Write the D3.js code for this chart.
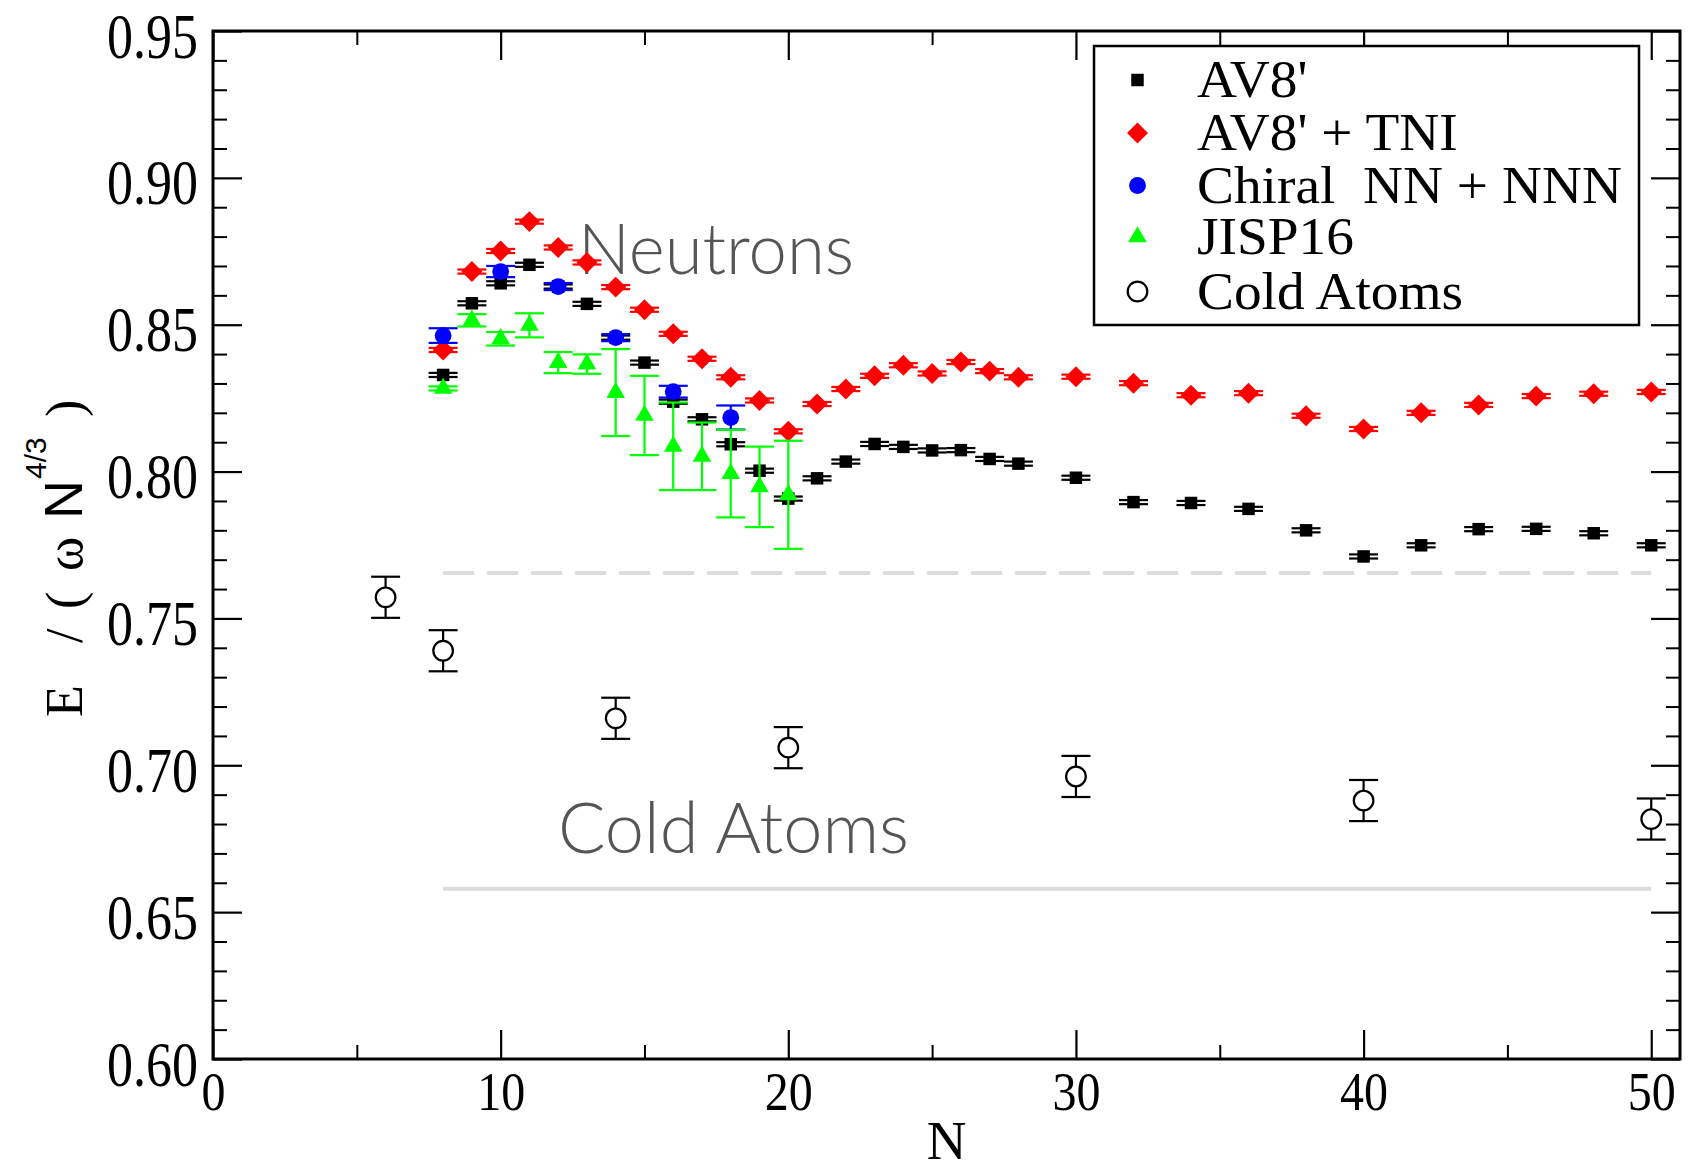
<!DOCTYPE html>
<html>
<head>
<meta charset="utf-8">
<script src="https://cdn.jsdelivr.net/npm/d3@7"></script>
<style>
  html, body { margin: 0; padding: 0; background: #fff; }
  svg { display: block; }
</style>
</head>
<body>
<svg id="chart" width="1691" height="1166"></svg>
<script>
// ---- data -------------------------------------------------------------
const av8N = [8, 9, 10, 11, 12, 13, 14, 15, 16, 17, 18, 19, 20, 21, 22, 23, 24, 25, 26, 27, 28,
              30, 32, 34, 36, 38, 40, 42, 44, 46, 48, 50];
const av8E = [0.8329, 0.8573, 0.8641, 0.8704, 0.8630, 0.8571, 0.8456, 0.8371, 0.8238, 0.8178,
              0.8093, 0.8003, 0.7908, 0.7977, 0.8034, 0.8094, 0.8084, 0.8072, 0.8073, 0.8043,
              0.8027, 0.7979, 0.7896, 0.7893, 0.7873, 0.7800, 0.7711, 0.7749, 0.7804, 0.7805,
              0.7790, 0.7749];
const av8Err = [0.0007, 0.0007, 0.0007, 0.0007, 0.0007, 0.0007, 0.0007, 0.0007, 0.0007, 0.0007,
                0.0007, 0.0007, 0.0007, 0.0007, 0.0007, 0.0007, 0.0007, 0.0007, 0.0007, 0.0007,
                0.0007, 0.0007, 0.0007, 0.0007, 0.0007, 0.0007, 0.0007, 0.0007, 0.0007, 0.0007,
                0.0007, 0.0007];

const tniN = av8N;
const tniE = [0.8414, 0.8681, 0.8751, 0.8851, 0.8763, 0.8712, 0.8628, 0.8551, 0.8469, 0.8384,
              0.8321, 0.8242, 0.8137, 0.8230, 0.8281, 0.8326, 0.8362, 0.8334, 0.8373, 0.8342,
              0.8321, 0.8323, 0.8301, 0.8260, 0.8267, 0.8190, 0.8145, 0.8200, 0.8227, 0.8257,
              0.8265, 0.8271];
const tniErr = av8Err;

const chiralN = [8, 10, 12, 14, 16, 18];
const chiralE = [0.8463, 0.8681, 0.8630, 0.8456, 0.8272, 0.8184];
const chiralErr = [0.0025, 0.0019, 0.0012, 0.0012, 0.0020, 0.0041];

const jispN = [8, 9, 10, 11, 12, 13, 14, 15, 16, 17, 18, 19, 20];
const jispE = [0.8283, 0.8515, 0.8452, 0.8498, 0.8371, 0.8366, 0.8269, 0.8191, 0.8086, 0.8052,
               0.7993, 0.7948, 0.7921];
const jispErr = [0.0007, 0.0021, 0.0023, 0.0041, 0.0036, 0.0033, 0.0148, 0.0135, 0.0149, 0.0115,
                 0.0149, 0.0137, 0.0184];

const coldN = [6, 8, 14, 20, 30, 40, 50];
const coldE = [0.7572, 0.7390, 0.7160, 0.7060, 0.6962, 0.6880, 0.6817];
const coldErr = [0.0070, 0.0070, 0.0070, 0.0070, 0.0070, 0.0070, 0.0070];

// reference levels (neutron and cold-atom bulk values)
const neutronLevel = 0.7655;
const coldLevel = 0.658;
const levelRange = [8, 50];

const xMajor = [0, 10, 20, 30, 40, 50];
const xMinor = [5, 15, 25, 35, 45];
const yMajor = [0.60, 0.65, 0.70, 0.75, 0.80, 0.85, 0.90, 0.95];

const legendLabels = ["AV8'", "AV8' + TNI", "Chiral  NN + NNN", "JISP16", "Cold Atoms"];

// ---- layout -----------------------------------------------------------
const svg = d3.select("#chart");
const W = 1691, H = 1166;
const L = 213, R = 1680, T = 31, B = 1059;

svg.append("rect").attr("width", W).attr("height", H).attr("fill", "#fff");

const x = d3.scaleLinear().domain([0, 51]).range([L, R]);
const y = d3.scaleLinear().domain([0.60, 0.95]).range([B, T]);

const serif = "'Liberation Serif', 'Times New Roman', serif";
const sans = "'Liberation Sans', Arial, sans-serif";

// ---- reference lines --------------------------------------------------
svg.append("line")
  .attr("x1", x(levelRange[0])).attr("x2", x(levelRange[1]))
  .attr("y1", y(neutronLevel)).attr("y2", y(neutronLevel))
  .attr("stroke", "#dcdcdc").attr("stroke-width", 4)
  .attr("stroke-dasharray", "31 13");
svg.append("line")
  .attr("x1", x(levelRange[0])).attr("x2", x(levelRange[1]))
  .attr("y1", y(coldLevel)).attr("y2", y(coldLevel))
  .attr("stroke", "#dcdcdc").attr("stroke-width", 4);

// ---- annotations ------------------------------------------------------
const noteFont = "Lato, 'Open Sans', sans-serif";
svg.append("text").text("Neutrons")
  .attr("x", 578).attr("y", 274)
  .attr("font-family", noteFont).attr("font-weight", 300)
  .attr("font-size", 70).attr("fill", "#555")
  .attr("textLength", 276).attr("lengthAdjust", "spacingAndGlyphs");
svg.append("text").text("Cold Atoms")
  .attr("x", 558).attr("y", 853)
  .attr("font-family", noteFont).attr("font-weight", 300)
  .attr("font-size", 70).attr("fill", "#555")
  .attr("textLength", 351).attr("lengthAdjust", "spacingAndGlyphs");

// ---- axes -------------------------------------------------------------
function styleAxis(g, width) {
  g.select(".domain").remove();
  g.selectAll(".tick line").attr("stroke", "#000").attr("stroke-width", width);
}

// bottom
svg.append("g").attr("transform", `translate(0,${B})`)
  .call(d3.axisBottom(x).tickValues(xMinor).tickSize(-14).tickFormat(""))
  .call(g => styleAxis(g, 2));
const xAxisG = svg.append("g").attr("transform", `translate(0,${B})`)
  .call(d3.axisBottom(x).tickValues(xMajor).tickSize(-29).tickFormat(d3.format("d")))
  .call(g => styleAxis(g, 2.2));
xAxisG.selectAll(".tick text")
  .attr("font-family", serif).attr("font-size", 48).attr("fill", "#000")
  .attr("dy", null).attr("y", 44.7)
  .attr("transform", "scale(1,1.14)");

// top mirror
svg.append("g").attr("transform", `translate(0,${T})`)
  .call(d3.axisTop(x).tickValues(xMinor).tickSize(-14).tickFormat(""))
  .call(g => styleAxis(g, 2));
svg.append("g").attr("transform", `translate(0,${T})`)
  .call(d3.axisTop(x).tickValues(xMajor).tickSize(-29).tickFormat(""))
  .call(g => styleAxis(g, 2.2));

// y minor ticks every 0.01
const yMinor = d3.range(61, 95).map(v => v / 100).filter(v => Math.round(v * 100) % 5 !== 0);
svg.append("g").attr("transform", `translate(${L},0)`)
  .call(d3.axisLeft(y).tickValues(yMinor).tickSize(-14).tickFormat(""))
  .call(g => styleAxis(g, 2));
const yAxisG = svg.append("g").attr("transform", `translate(${L},0)`)
  .call(d3.axisLeft(y).tickValues(yMajor).tickSize(-29).tickFormat(d3.format(".2f")))
  .call(g => styleAxis(g, 2.2));
yAxisG.selectAll(".tick text")
  .attr("font-family", serif).attr("font-size", 52).attr("fill", "#000")
  .attr("x", -15).attr("dy", null).attr("y", 21.7)
  .attr("text-anchor", "end")
  .attr("transform", "scale(1,1.2)");

svg.append("g").attr("transform", `translate(${R},0)`)
  .call(d3.axisRight(y).tickValues(yMinor).tickSize(-14).tickFormat(""))
  .call(g => styleAxis(g, 2));
svg.append("g").attr("transform", `translate(${R},0)`)
  .call(d3.axisRight(y).tickValues(yMajor).tickSize(-29).tickFormat(""))
  .call(g => styleAxis(g, 2.2));

// frame
svg.append("rect")
  .attr("x", L).attr("y", T).attr("width", R - L).attr("height", B - T)
  .attr("fill", "none").attr("stroke", "#000").attr("stroke-width", 3);

// axis titles
svg.append("text").text("N")
  .attr("x", (L + R) / 2).attr("y", 1159)
  .attr("text-anchor", "middle")
  .attr("font-family", serif).attr("font-size", 55).attr("fill", "#000");

const yTitle = svg.append("text")
  .attr("transform", "translate(82,717) rotate(-90)")
  .attr("font-family", serif).attr("fill", "#000");
yTitle.append("tspan").attr("x", 0).attr("font-size", 52).text("E");
yTitle.append("tspan").attr("x", 74).attr("font-size", 52).text("/");
yTitle.append("tspan").attr("x", 108).attr("font-size", 52).text("(");
yTitle.append("tspan").attr("x", 146).attr("font-size", 52).text("\u03c9");
yTitle.append("tspan").attr("x", 198).attr("font-size", 54).attr("font-family", sans).text("N");
yTitle.append("tspan").attr("x", 238).attr("dy", -36).attr("font-size", 30)
  .attr("font-family", sans).text("4/3");
yTitle.append("tspan").attr("x", 300).attr("dy", 36).attr("font-size", 52).text(")");

// ---- data marks -------------------------------------------------------
const plot = svg.append("g");
const CAP = 14.5;

function zipSeries(ns, es, errs) {
  return ns.map((n, i) => ({ n, e: es[i], err: errs[i] }));
}

function errorBars(g, data, color) {
  const eb = g.append("g").attr("stroke", color).attr("stroke-width", 2.2).attr("fill", "none");
  eb.selectAll("line.v").data(data).join("line").attr("class", "v")
    .attr("x1", d => x(d.n)).attr("x2", d => x(d.n))
    .attr("y1", d => y(d.e - d.err)).attr("y2", d => y(d.e + d.err));
  eb.selectAll("line.top").data(data).join("line").attr("class", "top")
    .attr("x1", d => x(d.n) - CAP).attr("x2", d => x(d.n) + CAP)
    .attr("y1", d => y(d.e + d.err)).attr("y2", d => y(d.e + d.err));
  eb.selectAll("line.bot").data(data).join("line").attr("class", "bot")
    .attr("x1", d => x(d.n) - CAP).attr("x2", d => x(d.n) + CAP)
    .attr("y1", d => y(d.e - d.err)).attr("y2", d => y(d.e - d.err));
}

const sqPath = d3.symbol(d3.symbolSquare, 156)();
const diaPath = d3.symbol(d3.symbolSquare, 220)();
const triPath = d3.symbol(d3.symbolTriangle, 150)();

// AV8'
const av8 = zipSeries(av8N, av8E, av8Err);
const gA = plot.append("g");
errorBars(gA, av8, "#000");
gA.selectAll("path").data(av8).join("path")
  .attr("d", sqPath).attr("fill", "#000")
  .attr("transform", d => `translate(${x(d.n)},${y(d.e)})`);

// AV8' + TNI
const tni = zipSeries(tniN, tniE, tniErr);
const gT = plot.append("g");
errorBars(gT, tni, "#ff0000");
gT.selectAll("path").data(tni).join("path")
  .attr("d", diaPath).attr("fill", "#ff0000")
  .attr("transform", d => `translate(${x(d.n)},${y(d.e)}) rotate(45)`);

// Chiral NN + NNN
const chiral = zipSeries(chiralN, chiralE, chiralErr);
const gC = plot.append("g");
errorBars(gC, chiral, "#0000ff");
gC.selectAll("circle").data(chiral).join("circle")
  .attr("cx", d => x(d.n)).attr("cy", d => y(d.e)).attr("r", 8.4)
  .attr("fill", "#0000ff");

// JISP16
const jisp = zipSeries(jispN, jispE, jispErr);
const gJ = plot.append("g");
errorBars(gJ, jisp, "#00ff00");
gJ.selectAll("path").data(jisp).join("path")
  .attr("d", triPath).attr("fill", "#00ff00")
  .attr("transform", d => `translate(${x(d.n)},${y(d.e)})`);

// Cold atoms
const cold = zipSeries(coldN, coldE, coldErr);
const gO = plot.append("g");
errorBars(gO, cold, "#000");
gO.selectAll("circle").data(cold).join("circle")
  .attr("cx", d => x(d.n)).attr("cy", d => y(d.e)).attr("r", 9.8)
  .attr("fill", "#fff").attr("stroke", "#000").attr("stroke-width", 2.2);

// ---- legend -----------------------------------------------------------
const leg = svg.append("g");
leg.append("rect")
  .attr("x", 1094).attr("y", 46).attr("width", 545).attr("height", 279)
  .attr("fill", "#fff").attr("stroke", "#000").attr("stroke-width", 2.5);

const rowY = [80, 133, 185.5, 237, 291.5];
const symX = 1137.5;
const legendMarks = [
  g => g.append("path").attr("d", sqPath).attr("fill", "#000"),
  g => g.append("path").attr("d", diaPath).attr("fill", "#ff0000").attr("transform", "rotate(45)"),
  g => g.append("circle").attr("r", 8.4).attr("fill", "#0000ff"),
  g => g.append("path").attr("d", triPath).attr("fill", "#00ff00"),
  g => g.append("circle").attr("r", 9.8).attr("fill", "#fff").attr("stroke", "#000").attr("stroke-width", 2.2)
];
legendLabels.forEach((label, i) => {
  const g = leg.append("g").attr("transform", `translate(${symX},${rowY[i]})`);
  legendMarks[i](g);
  leg.append("text")
    .attr("x", 1197).attr("y", rowY[i] + 17.5)
    .attr("font-family", serif).attr("font-size", 53).attr("fill", "#000")
    .attr("transform", `translate(1197,0) scale(1.045,1) translate(-1197,0)`)
    .style("white-space", "pre")
    .text(label);
});
</script>
</body>
</html>
